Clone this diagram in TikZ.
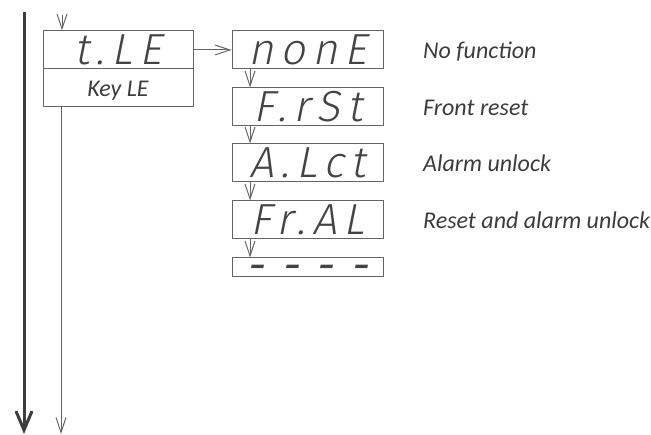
\documentclass[tikz,border=0pt]{standalone}
\usepackage{fontspec}
\setmainfont{Carlito}
\newfontfamily\segfont[FakeSlant=0.2, LetterSpace=16]{Fira Sans Light}
\newfontfamily\dashfont[FakeSlant=0.2]{Fira Sans}
\usetikzlibrary{arrows.meta}
\definecolor{boxgray}{HTML}{646464}
\definecolor{txtgray}{HTML}{3C3C3C}
\definecolor{seggray}{HTML}{444444}
\definecolor{thickgray}{HTML}{3C3C3C}
\tikzset{
  dispbox/.style={draw=boxgray, line width=1pt, minimum width=151pt, minimum height=38pt, inner sep=0pt},
  dashbox/.style={dispbox, minimum height=19pt},
  segtext/.style={font=\segfont\fontsize{43.5}{44}\selectfont, text=seggray},
  desc/.style={anchor=base west, font=\fontsize{24}{28}\selectfont\itshape, text=txtgray, inner sep=0pt},
  thinarrow/.style={draw=boxgray, line width=1pt, -{Straight Barb[length=15pt,width=10pt]}},
  bigarrow/.style={draw=thickgray, line width=3pt, -{Straight Barb[length=19pt,width=16pt]}},
}
\newcommand{\segstr}[1]{\raisebox{-15pt}[0pt][0pt]{#1}}
\begin{document}
\begin{tikzpicture}[x=1pt,y=-1pt]
\useasboundingbox (0,0) rectangle (651,435);
% big arrow
\coordinate (bigtop) at (24,12);
\coordinate (bigbot) at (24,434);
\draw[bigarrow] (bigtop) -- (bigbot);
% top box
\node[dispbox, minimum width=150pt, segtext] (tle) at (118,50) {\segstr{t.LE}};
\node[dispbox, minimum width=150pt, font=\fontsize{24}{28}\selectfont\itshape, text=txtgray] (key) at (118,88) {\raisebox{-9pt}[0pt][0pt]{Key LE}};
\coordinate (intop) at (62,15);
\draw[thinarrow] (intop) -- (intop |- tle.north);
\coordinate (outbot) at (61,434);
\draw[thinarrow] (outbot |- key.south) -- (outbot);
% displays
\node[dispbox, segtext] (none) at (307.5,50) {\segstr{nonE}};
\node[dispbox, segtext] (frst) at (307.5,107) {\segstr{F.rSt}};
\node[dispbox, segtext] (alct) at (307.5,163) {\segstr{A.Lct}};
\node[dispbox, segtext] (fral) at (307.5,220) {\segstr{Fr.AL}};
\node[dashbox, font=\dashfont\fontsize{43.5}{44}\selectfont, text=seggray] (dash) at (307.5,267.5) {\raisebox{-13pt}[0pt][0pt]{-\hspace{17pt}-\hspace{17pt}-\hspace{17pt}-}};
\draw[thinarrow] (tle.east |- none.west) -- (none.west);
\coordinate (colx) at (250,0);
\draw[thinarrow] (colx |- none.south) -- (colx |- frst.north);
\draw[thinarrow] (colx |- frst.south) -- (colx |- alct.north);
\draw[thinarrow] (colx |- alct.south) -- (colx |- fral.north);
\draw[thinarrow] (colx |- fral.south) -- (colx |- dash.north);
% descriptions
\node[desc] (dnone) at (423,58.5) {No function};
\node[desc] (dfrst) at (423,115.5) {Front reset};
\node[desc] (dalct) at (423,171.5) {Alarm unlock};
\node[desc] (dfral) at (423,229) {Reset and alarm unlock};
\end{tikzpicture}
\end{document}
